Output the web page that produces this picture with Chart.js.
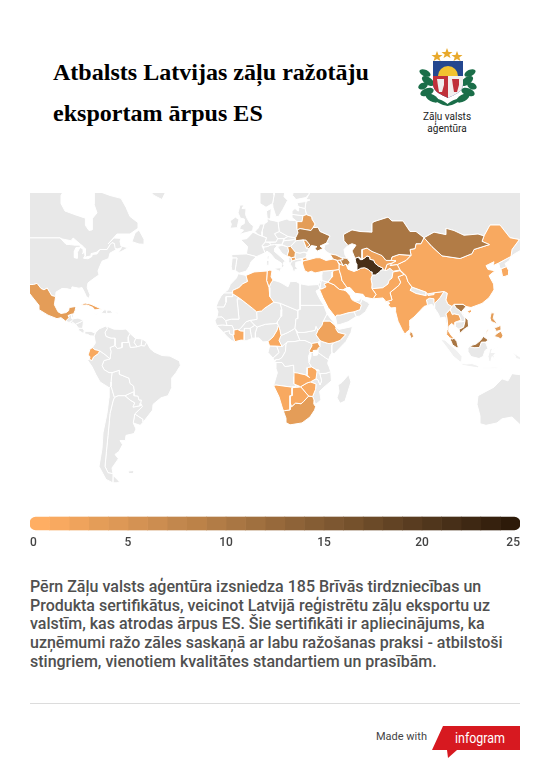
<!DOCTYPE html>
<html>
<head>
<meta charset="utf-8">
<script src="https://cdn.jsdelivr.net/npm/chart.js@4/dist/chart.umd.js"></script>
<style>
  html, body { margin: 0; padding: 0; background: #fff; }
  #page { position: relative; width: 550px; height: 781px; overflow: hidden; font-family: Roboto, sans-serif; }
  #title { position: absolute; left: 53px; top: 52px; font: bold 24.05px/41px "Liberation Serif", serif; color: #000; white-space: nowrap; }
  #mapBox { position: absolute; left: 30px; top: 193px; width: 490px; height: 300px; }
  #scaleBox { position: absolute; left: 30px; top: 515px; width: 490px; height: 34px; }
  #body { position: absolute; left: 30px; top: 578px; font: 500 16px/18.7px Roboto, sans-serif; color: #505050; white-space: nowrap; }
  #rule { position: absolute; left: 30px; top: 703px; width: 490px; height: 1px; background: #dcdcdc; }
  #made { position: absolute; left: 376px; top: 730px; font: 11px/14px Roboto, sans-serif; color: #444; }
  #agency { position: absolute; left: 407px; top: 111px; width: 80px; text-align: center; font: 10px/11.5px Roboto, sans-serif; color: #222; }
  svg { position: absolute; }
</style>
</head>
<body>
<div id="page">
  <div id="title">Atbalsts Latvijas zāļu ražotāju<br>eksportam ārpus ES</div>

  <svg style="left:418px;top:48px" width="60" height="62" viewBox="0 0 60 62">
    <g fill="#e8a92c">
      <polygon points="19,3 20.5,7 24.5,7 21.3,9.5 22.5,13 19,11 15.5,13 16.7,9.5 13.5,7 17.5,7"/>
      <polygon points="29,0 30.5,4 34.5,4 31.3,6.5 32.5,10 29,8 25.5,10 26.7,6.5 23.5,4 27.5,4"/>
      <polygon points="39,3 40.5,7 44.5,7 41.3,9.5 42.5,13 39,11 35.5,13 36.7,9.5 33.5,7 37.5,7"/>
    </g>
    <g fill="#1b6e49">
      <ellipse cx="7" cy="25" rx="6" ry="3.2" transform="rotate(25 7 25)"/>
      <ellipse cx="10" cy="33" rx="7" ry="3.8" transform="rotate(35 10 33)"/>
      <ellipse cx="5" cy="38" rx="5" ry="3.2" transform="rotate(-25 5 38)"/>
      <ellipse cx="9" cy="44" rx="7" ry="3.8" transform="rotate(-20 9 44)"/>
      <ellipse cx="14" cy="50" rx="7" ry="3.5" transform="rotate(30 14 50)"/>
      <ellipse cx="52" cy="25" rx="6" ry="3.2" transform="rotate(-25 52 25)"/>
      <ellipse cx="49" cy="33" rx="7" ry="3.8" transform="rotate(-35 49 33)"/>
      <ellipse cx="54" cy="38" rx="5" ry="3.2" transform="rotate(25 54 38)"/>
      <ellipse cx="50" cy="44" rx="7" ry="3.8" transform="rotate(20 50 44)"/>
      <ellipse cx="45" cy="50" rx="7" ry="3.5" transform="rotate(-30 45 50)"/>
      <ellipse cx="23" cy="54" rx="8" ry="1.8" transform="rotate(25 23 54)"/>
      <ellipse cx="36" cy="54" rx="8" ry="1.8" transform="rotate(-25 36 54)"/>
    </g>
    <path d="M15 13 H45 V36 C45 44 36 47 30 50 C24 47 15 44 15 36 Z" fill="#24478f"/>
    <path d="M20 28 A10 10 0 0 1 40 28 Z" fill="#f2c230"/>
    <path d="M15 28 H30 V50 C24 47 15 44 15 36 Z" fill="#c0303a"/>
    <path d="M30 28 H45 V36 C45 44 36 47 30 50 Z" fill="#f2eeee"/>
    <path d="M19 31 h7 v6 l-2 7 h-3 l-1 -6 z" fill="#eee"/>
    <path d="M34 31 h7 v6 l-2 7 h-3 l-1 -6 z" fill="#c0303a"/>
  </svg>
  <div id="agency">Zāļu valsts<br>aģentūra</div>

  <div id="mapBox"><canvas id="map"></canvas></div>
  <div id="scaleBox"><canvas id="scale"></canvas></div>

  <div id="body">Pērn Zāļu valsts aģentūra izsniedza 185 Brīvās tirdzniecības un<br>Produkta sertifikātus, veicinot Latvijā reģistrētu zāļu eksportu uz<br>valstīm, kas atrodas ārpus ES. Šie sertifikāti ir apliecinājums, ka<br>uzņēmumi ražo zāles saskaņā ar labu ražošanas praksi - atbilstoši<br>stingriem, vienotiem kvalitātes standartiem un prasībām.</div>

  <div id="rule"></div>
  <div id="made">Made with</div>
  <svg style="left:432px;top:725px" width="88" height="34" viewBox="0 0 88 34">
    <polygon points="11,1 88,1 88,25 25,25 16,33 15,25 0,25" fill="#d71920"/>
    <text x="23" y="18" fill="#fff" font-family="Liberation Sans Narrow, Roboto, sans-serif" font-size="15" textLength="50" lengthAdjust="spacingAndGlyphs">infogram</text>
  </svg>
</div>

<script>
// colour scale, one colour per unit
const scaleColors = ['#FFAE63','#F8A960','#EFA35C','#E49D58','#DD9856','#D49253','#CC8D50','#C2874D','#BC8248','#B27C46','#A97643','#A0703F','#97693B','#8E6338','#855D34','#7D5731','#75512C','#6B4A28','#624324','#593C20','#50361C','#472F18','#3E2813','#36210E','#2D1A09'];
const scaleTicks = [0, 5, 10, 15, 20, 25];

// countries with certificates, [lon, lat]
const mexico = [[-117.1,32.5],[-114.8,32.5],[-111,31.3],[-108.2,31.3],[-106.5,31.8],[-104.5,29.6],[-103,29],[-101.4,29.8],[-99.2,26.5],[-97.2,26],[-97.8,22.3],[-96,19],[-94.5,18.2],[-92,18.6],[-90.7,19.5],[-90.4,21],[-87,21.5],[-87.5,19.5],[-88.2,18],[-89.1,17.9],[-91,17.2],[-90.5,16.2],[-92.2,14.5],[-94.5,16.2],[-96.5,15.7],[-101,17.4],[-105.5,20],[-105.5,22],[-109,26],[-112.5,30],[-114.7,31.5],[-112.5,27],[-109.5,23],[-112,25],[-115,28.5]];
const cuba = [[-84.9,21.9],[-82.5,23.1],[-79.5,22.5],[-76,21],[-74.2,20.2],[-77.7,19.9],[-78.5,21],[-81.5,22.2],[-84,22]];
const ecuador = [[-80.9,-2.2],[-80,0.8],[-78.8,1.4],[-77.5,0.4],[-75.2,-0.1],[-75.8,-1.5],[-78.3,-3.3],[-79,-5],[-80.3,-4.4],[-80,-3.2]];
const algeria = [[-2,35.1],[2,36.5],[8.6,36.9],[8.3,33],[9.5,30],[9.9,26],[11.9,23.5],[7.5,20.8],[5.8,19.4],[3.3,19],[1.2,20.7],[-4.8,25],[-8.7,27.3],[-8.7,28.7],[-5.5,30],[-3.6,31.6],[-1.2,32.6]];
const tunisia = [[8.6,36.9],[10,37.3],[11,36.9],[10.5,34.5],[11.5,33.2],[10.3,31.7],[9.5,30],[8.3,33]];
const ivoryCoast = [[-8,10.2],[-6.2,10.5],[-4.7,9.7],[-2.8,9.6],[-2.9,5.1],[-4.5,5.2],[-7.6,4.4],[-8.5,7.7],[-7.9,8]];
const cameroon = [[9,4.5],[11.5,6.7],[13.5,10],[14.2,12.5],[15,10],[15.5,7.5],[14.5,5],[16,2],[13.3,2.2],[9.8,2.3]];
const ethiopia = [[36,12.5],[36.5,14.3],[37,14.5],[40,14.5],[42.4,12.5],[43,11.5],[42.8,11],[44,9],[47.9,8],[45,5],[41.9,3.9],[39.5,3.4],[36,4.5],[35,5],[33,7.8],[34,10]];
const uganda = [[30.8,3.5],[33.9,4],[35,2],[34,1],[33.9,0.2],[31.7,0],[31.7,-1],[30,-1],[29.7,0],[31,2.3]];
const zambia = [[22,-11],[24,-11.2],[25,-11.5],[27.5,-12],[29.8,-13.4],[28.5,-12],[28.7,-8.5],[30.8,-8.2],[32.9,-9.4],[33.5,-10.5],[33,-14],[30.2,-15.5],[28.5,-16],[25.3,-17.8],[22,-16.5]];
const namibia = [[11.8,-17.2],[13,-17],[20.8,-18],[23.4,-17.6],[25.3,-17.8],[21,-18.3],[21,-22],[20,-22],[20,-28.4],[17.3,-28.8],[16.5,-28.5],[14.5,-22.5]];
const botswana = [[20,-22],[21,-22],[21,-18.3],[25.3,-17.8],[29.3,-22.2],[26.8,-24.7],[25.5,-25.7],[22.8,-25.4],[20.8,-27],[20,-25]];
const zimbabwe = [[25.3,-17.8],[28.5,-16],[30.2,-15.5],[33,-16.5],[32.8,-19],[31.3,-22.4],[29.3,-22.2]];
const southAfrica = [[16.5,-28.5],[17.3,-28.8],[20,-28.4],[20,-25],[20.8,-27],[22.8,-25.4],[25.5,-25.7],[26.8,-24.7],[29.3,-22.2],[31.3,-22.4],[32,-24],[31.9,-25.8],[32.8,-27],[32.3,-28.5],[30,-31.5],[26,-34],[20,-34.8],[18.3,-34],[18,-32]];
const ukraine = [[24,50.6],[23.6,51.5],[25,51.9],[30.5,51.3],[31.5,52.2],[34,52.3],[35,51],[40,49.6],[38.2,47.2],[35,46.2],[36.5,45.3],[33.5,44.4],[32.5,45.4],[33.5,46],[30.7,46.4],[29.6,45.4],[28.2,45.5],[30,46.5],[28,48.2],[26.5,48.3],[22.9,48],[22.8,49]];
const belarus = [[23.5,54],[26,54],[26.5,55.7],[28.2,56],[30.8,55.5],[31,54.7],[32.5,53.3],[31.5,52.2],[30.5,51.3],[25,51.9],[23.6,51.5]];
const moldova = [[26.6,48.3],[28,48.2],[30,46.5],[28.2,45.5]];
const serbia = [[18.8,45.9],[20.3,46.1],[22.7,44],[22.4,42.3],[20.7,42],[19.4,42.5],[18.5,42.5],[19.3,44.5]];
const macedonia = [[20.5,42],[22.4,42.3],[22.9,41.3],[21,40.8]];
const turkey = [[26.2,40],[26.7,38.5],[27.4,37],[29,36.3],[30.7,36.8],[32.5,36.1],[36,36.7],[36.2,36.8],[42,37.2],[44.5,37.5],[44.5,39.4],[43.5,41],[41.5,41.5],[38,41],[35,42],[33,42],[29,41.2],[27.5,41],[26.2,40.6]];
const turkeyThrace = [[26.2,40.7],[28,41.1],[29,41.2],[28,42],[26.4,41.8]];
const georgia = [[40,43.4],[43,43],[46,41.9],[46.5,41.3],[43.5,41],[41.5,41.5]];
const armenia = [[43.5,41],[45,41.2],[46.5,39],[44.8,39.7]];
const azerbaijan = [[46.5,41.3],[46,41.9],[48.5,41.8],[50,40.3],[49,39],[48,39.6],[46.5,39],[45,41.2]];
const kazakhstan = [[49,46.4],[47,48],[46.7,50],[48,50.5],[51,51.5],[55,51],[61,50.8],[61,53.5],[62,54],[69,55.3],[71,54.2],[76.5,54.2],[80,51],[83,51],[87,49],[85.5,47],[83,47],[82.5,45.3],[80,45],[80.5,42.9],[74.5,43.2],[71,42.3],[70.5,41],[68,41],[66,42.8],[61,44.3],[58.5,45.5],[56,45],[56,41.3],[54.5,42.3],[52.5,41.8],[51,44.5],[53,46.5],[51,47]];
const uzbekistan = [[56,45],[58.5,45.5],[61,44.3],[65,43.7],[66,42.8],[68,41],[70.5,41],[73,40.8],[71,40],[68.5,39.5],[67.5,37.2],[66.6,37.4],[66.5,38],[64.2,38.9],[62.4,40],[61.9,41.1],[60.1,41.4],[60,42.2],[58.5,42.7],[57.8,42.2],[56,41.3]];
const turkmenistan = [[52.5,41.8],[54,42.3],[55,41.3],[56,41.3],[57.8,42.2],[58.5,42.7],[60,42.2],[60.1,41.4],[61.9,41.1],[62.4,40],[64.2,38.9],[66.5,38],[66.6,37.4],[65.6,37.3],[64.5,36.3],[62.7,35.3],[61.2,35.3],[61.1,36.5],[60.3,36.6],[59.2,37.5],[57.3,38.2],[55.4,38],[53.9,37.3],[53.5,39.5],[53,40]];
const tajikistan = [[67.5,37.2],[68.5,39.5],[71,40],[70,39],[73.6,39.4],[75,37.3],[71.5,36.8],[70,38],[68,37]];
const kyrgyzstan = [[71,42.3],[74.5,43.2],[80.5,42.9],[78,41],[73.6,39.4],[70,39],[71,40],[73,40.8],[70.5,41]];
const mongolia = [[87,49],[92,50.8],[98,50],[98,52],[102,51.3],[107,49.8],[114,50.2],[117,49.6],[116,47.8],[119.7,46.7],[112,45],[111,43.5],[105,41.7],[96,42.7],[91,46]];
const china = [[73.6,39.4],[78,41],[80.5,42.9],[80,45],[82.5,45.3],[83,47],[85.5,47],[87,49],[91,46],[96,42.7],[105,41.7],[111,43.5],[112,45],[119.7,46.7],[116,47.8],[117,49.6],[120,53],[125,53],[130,49],[134.7,48.4],[131,45],[130.5,42.5],[128,41.5],[124.3,40],[121.5,39],[122,40.5],[118,39],[119,37.5],[122.5,37],[119.5,35],[121.8,31.5],[122,29],[119.5,25.5],[116,22.9],[110.5,21],[108,21.5],[106.5,22.5],[102,22.5],[101,21.5],[99,22.5],[98,24.5],[98.7,27.5],[97,28.3],[92,27.7],[88.8,27.2],[88,28],[81,30.2],[79,32.5],[78,35],[75,37.3]];
const hainan = [[108.7,19.3],[110.5,20.1],[110.8,19],[109.5,18.2]];
const southKorea = [[125.5,37.7],[128.3,38.6],[129.4,37],[129.3,35.3],[127.5,34.7],[126.3,34.6]];
const iran = [[44.5,39.4],[48,39.6],[49,37.6],[52,36.7],[53.9,37.3],[55.4,38],[57.3,38.2],[59.2,37.5],[60.3,36.6],[61.1,36.5],[61.2,35.3],[60.5,33.7],[61,31.5],[60.9,29.8],[61,29.5],[63,27],[61.5,25],[57.5,25.7],[56.5,27],[52.5,27.5],[50,30],[48.5,30],[47.7,31],[46,33],[45.5,35],[44.5,37.5]];
const iraq = [[42,37.2],[44.5,37.5],[45.5,35],[46,33],[47.7,31],[48.5,30],[46.5,29],[44.7,29.2],[42,31.2],[39,32.3],[41,34.5],[41.3,36.5]];
const saudiArabia = [[34.7,29.3],[36,29.4],[38,30.3],[37,31.5],[39,32.3],[42,31.2],[44.7,29.2],[46.5,29],[48,28.5],[50,26.5],[50.8,24.8],[51.6,24.2],[55.2,22.7],[55.6,22],[55,20],[52,19],[49,18.5],[45,17.4],[43.4,17.4],[42.7,16.5],[39,21],[36.5,25.5]];
const pakistan = [[61.5,25],[66.5,25.4],[68,23.7],[71,24.5],[70,27.8],[74.5,31],[75.3,32.3],[74,34.5],[77,35.5],[75,37],[71.5,36.5],[71,34],[69.5,33],[69,31.5],[66.4,29.9],[61,29.5],[63,27]];
const india = [[68.2,23.7],[71,24.5],[70,27.8],[74.5,31],[75.3,32.3],[74,34.5],[77,35.5],[78,35],[79,32.5],[81,30.2],[80,28.8],[83,27.4],[88,26.4],[88.1,27.9],[88.8,27.2],[89,26.5],[92,26.9],[92,27.7],[97,28.3],[95,25.5],[93.5,24],[92.3,23],[92,25],[89.8,25.3],[88.2,24.5],[88.8,22],[87,21.5],[85,19.5],[82,16.5],[80,15],[80,12],[79.8,10.3],[78,8.9],[77.5,8],[76,10.5],[74,14.5],[72.8,19],[72.8,21],[70.5,20.8],[69,22.3],[70,23]];
const sriLanka = [[79.8,8],[80.2,9.7],[81.3,8.5],[81.8,7],[80.6,6]];
const thailand = [[100,20],[101.2,17.6],[102,18],[104.5,17.5],[105.5,15],[102.5,14],[102.5,12],[100.8,13.4],[99.5,12],[99.3,9.5],[101,7],[102,6.2],[101,5.7],[99.7,6.5],[98.3,8],[98.5,10],[99,11],[98.5,16],[98,18]];
const vietnam = [[102,22.5],[106.5,22.5],[108,21.5],[105.7,19],[107,17],[109,15],[109.3,12],[107,10.5],[105,8.6],[104.5,10.5],[106.8,11.6],[107.5,14.5],[107.5,16],[105,19.5],[103,20.8]];
const malaysiaWest = [[100.2,6.5],[101,5.7],[102,6.2],[103.4,4.5],[104.2,1.4],[103.4,1.4],[101.3,2.8],[100.4,5]];
const malaysiaEast = [[109.7,2],[111.3,2.7],[113,3.2],[115.2,5],[116.7,7],[119.2,5.2],[117.7,4.2],[115.7,4.2],[114.7,1.5],[112,1.4]];
const luzon = [[120.6,18.5],[122.2,18.4],[121.6,15.8],[124,13],[121.8,13.9],[120.6,14.3],[120,16]];
const mindanao = [[122,7],[123.5,8.5],[125.5,9.7],[126.5,7.3],[125.5,5.7],[124,6.5]];
const visayas = [[122,11.5],[123.2,11.5],[125.4,12.5],[125.5,10.2],[123.2,9.5]];
const palawan = [[117.3,8.4],[119.5,11.2],[119,10],[118,8.5]];

const certCountries = [mexico, cuba, ecuador, algeria, tunisia, ivoryCoast, cameroon, ethiopia, uganda, zambia, namibia, botswana, zimbabwe, southAfrica, ukraine, belarus, moldova, serbia, macedonia, turkey, turkeyThrace, georgia, armenia, azerbaijan, kazakhstan, uzbekistan, turkmenistan, tajikistan, kyrgyzstan, mongolia, china, hainan, southKorea, iran, iraq, saudiArabia, pakistan, india, sriLanka, thailand, vietnam, malaysiaWest, malaysiaEast, luzon, mindanao, visayas, palawan];
const certValues = [3, 2, 1, 1, 1, 1, 1, 2, 2, 1, 1, 1, 1, 3, 10, 3, 3, 3, 2, 1, 1, 5, 4, 8, 10, 2, 21, 2, 1, 9, 1, 1, 1, 1, 1, 1, 1, 1, 4, 2, 10, 10, 10, 3, 3, 3, 3];

// the rest of the land, grey
const greenland = [[-44,60],[-42,62],[-40,65],[-52,65],[-50,62],[-48,61]];
const canada = [[-130,70],[-123,49],[-95,49],[-94.6,48.7],[-89.5,48],[-88.4,48.9],[-84.9,46.9],[-83.5,46.1],[-82.5,45.3],[-82.1,43.6],[-82.5,42.6],[-83.1,42.1],[-79,42.8],[-79.5,43.5],[-76.8,44],[-75,45],[-71.5,45],[-70,46.7],[-69,47.4],[-67.8,47.1],[-67.4,45.3],[-66,45.2],[-64.2,45.7],[-66,43.7],[-63.5,44.6],[-60,46],[-61.5,45.7],[-64.5,46.2],[-65,47.8],[-64.5,48.8],[-68,48.9],[-71,46.9],[-69,48.4],[-66.5,50.2],[-60,50.2],[-56,52],[-56,53.7],[-60,55.5],[-62,58],[-64.5,60.3],[-70,61],[-78,62.4],[-78,58.8],[-76.5,56.5],[-79,54.8],[-79,51.5],[-80.5,51.3],[-82.3,52.9],[-82.3,55],[-87.5,56],[-92.5,57],[-94.5,59],[-94.5,61],[-92,63],[-90,64],[-90,70]];
const newfoundland = [[-59,47.7],[-55.5,46.9],[-53,46.8],[-53,48.5],[-55.5,51.5],[-57.5,50.5]];
const usa = [[-125,49],[-95,49],[-94.6,48.7],[-92,46.8],[-90,46.7],[-87.5,46.5],[-84.8,46.5],[-84.8,45.8],[-87,45.7],[-87.8,44.5],[-87.8,42],[-86.5,41.8],[-86.3,44],[-85,45.7],[-83.5,45.2],[-83.3,44],[-83.9,43.6],[-82.6,43.9],[-82.5,42.8],[-83.2,41.8],[-81,41.6],[-79,42.5],[-79,43.2],[-76.5,43.4],[-75,45],[-71.5,45],[-70,46.7],[-69,47.4],[-67.8,47.1],[-67,44.9],[-70,43.7],[-70.7,41.7],[-74,40.7],[-75.5,38],[-76,36.9],[-75.5,35.3],[-78,33.9],[-81,32],[-81.4,30],[-80,26.8],[-80.4,25.2],[-81.8,26],[-82.8,28],[-84,30],[-85.5,29.7],[-89,30.3],[-89.3,29],[-91.5,29.5],[-94,29.6],[-97,28],[-97.2,26],[-99.2,26.5],[-101.4,29.8],[-103,29],[-104.5,29.6],[-106.5,31.8],[-108.2,31.3],[-111,31.3],[-114.8,32.5],[-120,32]];
const guatemala = [[-92.2,14.5],[-90.5,16.2],[-91,17.2],[-89.2,17.8],[-89.2,15.9],[-88.2,15.7],[-89.4,14.4],[-90.5,13.9]];
const belize = [[-89.2,17.8],[-88.2,18.4],[-88.3,16.5],[-89.2,15.9]];
const honduras = [[-89.2,15.9],[-88.2,15.7],[-86,16],[-83.2,15],[-85,14],[-87.3,13],[-87.8,13.4],[-89.4,14.4]];
const elSalvador = [[-90,13.7],[-89.4,14.4],[-87.8,13.4],[-88.5,13.2]];
const nicaragua = [[-87.3,13],[-85,14],[-83.2,15],[-83.7,11],[-85.7,11.1]];
const costaRica = [[-85.7,11.1],[-83.7,11],[-82.6,9.5],[-83,8.3],[-85.7,10]];
const panama = [[-82.6,9.5],[-79.5,9.5],[-77.4,8.7],[-77.9,7.2],[-80,7.3],[-81,8],[-83,8.3]];
const haiti = [[-74.4,18.4],[-71.7,18],[-71.7,19.8],[-73,19.9]];
const dominicana = [[-71.7,18],[-68.5,18.5],[-69.9,19.7],[-71.7,19.8]];
const jamaica = [[-78.3,18.3],[-76.3,18.1],[-77,17.7]];
const puertoRico = [[-67.2,18.5],[-65.6,18.4],[-66.5,17.9]];
const colombia = [[-77.4,8.7],[-75.5,10.7],[-72,12.2],[-71.3,11],[-72.5,9],[-72,7],[-69.5,6.1],[-67.5,6.1],[-67.5,2.5],[-70,1.5],[-69.5,-0.5],[-70,-4.2],[-72,-2.4],[-75.2,-0.1],[-77.5,0.4],[-78.8,1.4],[-77.3,3.8],[-77.9,7.2]];
const venezuela = [[-71.3,11],[-71.5,12],[-68,10.6],[-64,10.5],[-62,10.7],[-60,8.5],[-61,6.7],[-60.7,5.2],[-61,4],[-64,4],[-64,1.5],[-66.3,1],[-67.5,2.5],[-67.5,6.1],[-69.5,6.1],[-72,7],[-72.5,9]];
const guyana = [[-60,8.5],[-57.2,6],[-58,4],[-56.5,1.9],[-59.8,1.5],[-60.7,5.2],[-61,6.7]];
const suriname = [[-57.2,6],[-54,5.8],[-54.5,2.5],[-56.5,1.9],[-58,4]];
const frenchGuiana = [[-54,5.8],[-51.7,4.3],[-52.7,2.3],[-54.5,2.5]];
const peru = [[-81.3,-4.7],[-80.3,-4.4],[-79,-5],[-78.3,-3.3],[-75.8,-1.5],[-75.2,-0.1],[-72,-2.4],[-70,-4.2],[-73,-5],[-74,-7.5],[-73,-9.5],[-70.5,-11],[-69,-11],[-69.5,-15.5],[-69.5,-17.5],[-70.4,-18.3],[-75,-15.5],[-77,-12],[-79,-8]];
const brazil = [[-51.7,4.3],[-50,1],[-48,-0.7],[-44,-2.5],[-40,-2.8],[-35.3,-5.2],[-34.8,-7.5],[-37,-11],[-39,-13.5],[-39,-18],[-41,-22],[-44.5,-23],[-48.5,-26],[-48.7,-28.5],[-52,-32.2],[-53.4,-33.7],[-53.5,-32.5],[-57.6,-30.2],[-53.8,-27],[-54.6,-25.5],[-54.3,-24],[-55.5,-24],[-56,-22.2],[-58,-22],[-57.8,-20],[-58.2,-17.5],[-60,-16.2],[-60.5,-13.7],[-65.3,-11.8],[-65.3,-9.8],[-69,-11],[-70.5,-11],[-73,-9.5],[-74,-7.5],[-73,-5],[-70,-4.2],[-69.5,-0.5],[-70,1.5],[-67.5,2.5],[-66.3,1],[-64,1.5],[-64,4],[-61,4],[-60.7,5.2],[-59.8,1.5],[-56.5,1.9],[-54.5,2.5],[-52.7,2.3]];
const bolivia = [[-69,-11],[-65.3,-9.8],[-65.3,-11.8],[-60.5,-13.7],[-60,-16.2],[-58.2,-17.5],[-57.8,-20],[-62.5,-22],[-66,-22],[-67.8,-22.8],[-69,-19],[-69.5,-17.5],[-69.5,-15.5]];
const paraguay = [[-62.5,-22],[-57.8,-20],[-58,-22],[-56,-22.2],[-55.5,-24],[-54.3,-24],[-54.6,-25.5],[-55,-26.6],[-58.5,-27.2],[-57.6,-25.3],[-60,-24]];
const chile = [[-70.4,-18.3],[-69.5,-17.5],[-69,-19],[-67.8,-22.8],[-68.5,-24.5],[-70,-30],[-70.3,-33],[-71,-39],[-71.8,-45],[-72.5,-50],[-71,-52],[-68.5,-52.3],[-68.6,-55],[-72,-54],[-75.5,-50],[-74,-44],[-73.5,-38],[-71.5,-30],[-70.5,-23]];
const argentina = [[-66,-22],[-62.5,-22],[-60,-24],[-57.6,-25.3],[-58.5,-27.2],[-55,-26.6],[-54.6,-25.5],[-53.8,-27],[-57.6,-30.2],[-58.4,-34],[-57,-36.5],[-58,-38.3],[-62,-39],[-62.3,-41],[-65,-41],[-63.7,-42.5],[-65.5,-45],[-67.5,-46],[-65.8,-47.5],[-69,-50.5],[-68.5,-52.3],[-71,-52],[-72.5,-50],[-71.8,-45],[-71,-39],[-70.3,-33],[-70,-30],[-68.5,-24.5],[-67.8,-22.8]];
const tierraDelFuego = [[-68.6,-52.7],[-68.6,-55],[-66.5,-55],[-65.2,-54.7]];
const uruguay = [[-57.6,-30.2],[-53.5,-32.5],[-53.4,-33.7],[-54.9,-35],[-58.4,-34]];
const falklands = [[-61,-51.5],[-58,-51.3],[-58.5,-52.3],[-60.5,-52.2]];
const portugal = [[-9.4,38.7],[-8.9,41.9],[-6.5,41.9],[-7,39.5],[-7.4,37.2],[-9,37]];
const spain = [[-8.9,41.9],[-9.2,43.2],[-1.8,43.4],[3.2,42.4],[0.5,40.5],[-0.3,38.8],[-2,36.8],[-5.5,36],[-7.4,37.2],[-7,39.5],[-6.5,41.9]];
const france = [[-1.8,43.4],[-1.2,46],[-4.7,48.4],[-1.6,48.7],[1.5,50.8],[4,50],[6,49.5],[8.2,49],[7.6,47.6],[6,46.3],[6.8,45],[7.5,43.8],[3.2,42.4]];
const benelux = [[2.5,51],[4,52],[5,53.3],[7,53.3],[6,51],[6,49.5],[4,50]];
const germany = [[7,53.3],[8.8,54],[8.6,55],[10,54.5],[14,54],[14.6,51],[12.2,50.3],[13.8,48.7],[13,47.6],[7.6,47.6],[8.2,49],[6,49.5],[6,51]];
const denmark = [[8.6,55],[8.2,57],[10.6,57.7],[10.3,55],[10,54.5]];
const switzerland = [[6,46.3],[7.6,47.6],[9.6,47.4],[10.4,46.6],[8.5,46],[7,45.9]];
const austria = [[9.6,47.4],[13,47.6],[13.8,48.7],[17,48.7],[16,46.8],[12.2,46.7],[10.4,46.6]];
const italy = [[7,45.9],[8.5,46],[10.4,46.6],[12.2,46.7],[13.7,46.4],[12.3,45.3],[12.4,44.2],[16,41.9],[18.4,40.2],[17,40.5],[16.5,39.5],[17,39],[16,38],[15.7,40],[12.5,41.5],[10.3,43.5],[8.5,44.4],[7.5,43.8],[6.8,45]];
const sicily = [[12.5,38],[15.6,38.2],[15.1,36.7],[12.5,37.6]];
const sardinia = [[8.2,40.9],[9.7,41],[9.6,39.2],[8.5,39]];
const corsica = [[8.6,42.4],[9.5,43],[9.4,41.5],[8.8,41.5]];
const britain = [[-5.5,50],[-3,50.5],[1.3,51.2],[1.7,52.7],[0,53.5],[-1.5,55],[-2.2,56],[-2,57.6],[-4,57.7],[-3,58.6],[-5,58.6],[-6,56.5],[-4.8,55],[-3,54.8],[-3,53.4],[-4.7,52.8],[-5.2,51.8],[-3.2,51.4]];
const ireland = [[-10,52],[-6.3,52.2],[-6,53.5],[-5.5,54.6],[-7.3,55.3],[-10,54.2],[-9.3,53.2]];
const norway = [[5,59],[5,62],[12,66],[18,70],[28,71],[28,70],[24,68.5],[20,69],[15,66],[12,63],[12,61],[11.3,59],[8,58]];
const sweden = [[11.3,59],[12,61],[12,63],[15,66],[20,69],[24,66],[22,65.5],[17.5,62],[17,60.7],[18.8,59.8],[16.5,57.5],[14.3,55.5],[13,55.4],[11.5,58]];
const finland = [[24,66],[20,69],[24,68.5],[28,70],[29,69],[30,65],[29.5,61.3],[28,60.5],[23,60],[21.3,61],[22,63],[25.2,65]];
const estonia = [[23.5,59.2],[28,59.5],[27.5,57.7],[25,58],[24,58.3]];
const latvia = [[21,57],[22.5,57.7],[24,57],[24.3,58],[25,58],[27.5,57.7],[28.2,56],[26.5,55.7],[21,56.1]];
const lithuania = [[21,56.1],[26.5,55.7],[26,54],[23.5,54],[21,55.2]];
const poland = [[14,54],[18.5,54.8],[19.5,54.4],[23,54.3],[23.6,51.5],[24,50.6],[22.8,49],[19,49.4],[14.6,51]];
const czechia = [[12.2,50.3],[14.6,51],[19,49.5],[17,48.7],[13.8,48.7]];
const slovakia = [[17,48.7],[19,49.4],[22.8,49],[22.1,48.4],[17,48]];
const hungary = [[16,46.8],[17,48],[22.1,48.4],[22.9,48],[20.3,46.1],[18.8,45.9],[16.6,46.5]];
const romania = [[22.9,48],[26.6,48.3],[28.2,45.5],[29.6,45.2],[28.6,43.8],[27,44.1],[25,43.7],[22.7,44],[20.3,46.1]];
const bulgaria = [[22.7,44],[25,43.7],[27,44.1],[28.6,43.5],[27.8,42],[26.4,41.8],[24,41.5],[22.9,41.3],[22.4,42.3]];
const greece = [[20,39.6],[21,40.8],[22.9,41.3],[24,41.5],[26.2,41.5],[26,40.8],[23,40.3],[23,38.5],[24,37.8],[22.8,37.5],[22.6,36.5],[21.5,37],[21,38.5]];
const albania = [[19.4,42.2],[20.5,42],[21,40.8],[20,39.6],[19.4,40.5]];
const croatia = [[13.7,46],[16,46.5],[18.8,45.9],[19.3,44.5],[18.5,42.5],[16,43.6],[14.5,45.2]];
const russia = [[28,70],[30,65],[29.5,61.3],[28,60],[30,59.9],[28,59.5],[27.5,57.7],[28.2,56],[30.8,55.5],[31,54.7],[32.5,53.3],[31.5,52.2],[34,52.3],[35,51],[40,49.6],[38.2,47.2],[39.3,47],[37.5,46.7],[37,45.2],[38,44.3],[40,43.4],[43,43],[46,41.9],[48.5,41.8],[47.5,43],[47,45],[49,46.4],[47,48],[46.7,50],[48,50.5],[51,51.5],[55,51],[61,50.8],[61,53.5],[62,54],[69,55.3],[71,54.2],[76.5,54.2],[80,51],[83,51],[87,49],[92,50.8],[98,50],[98,52],[102,51.3],[107,49.8],[114,50.2],[117,49.6],[120,53],[125,53],[130,49],[134.7,48.4],[131,45],[130.5,42.5],[132,43.3],[136,45],[140,49],[141,53],[137,54],[140,75],[28,75]];
const northKorea = [[130.5,42.5],[128,41.5],[124.3,40],[125,38],[125.5,37.7],[128.3,38.6],[127.5,39.8],[129.7,41]];
const afghanistan = [[60.5,33.7],[61,31.5],[60.9,29.8],[61,29.5],[66.4,29.9],[69,31.5],[69.5,33],[71,34],[71.5,36.5],[75,37],[71.5,36.8],[70,38],[68,37],[67.5,37.2],[66.6,37.4],[65.6,37.3],[64.5,36.3],[62.7,35.3],[61.2,35.3]];
const syria = [[36.2,36.8],[42,37.2],[41.3,36.5],[41,34.5],[39,32.3],[36,33],[35.9,35]];
const jordan = [[36,33],[39,32.3],[37,31.5],[38,30.3],[36,29.4],[35,29.5],[35.5,32.4]];
const israel = [[35,29.5],[35.5,32.4],[35.7,33.5],[35,32.8],[34.3,31.3]];
const yemen = [[42.7,16.5],[43.4,17.4],[45,17.4],[49,18.5],[52,19],[53.1,16.7],[49,14.2],[45,12.9],[43.5,12.7]];
const oman = [[52,19],[55,20],[55.6,22],[55.2,22.7],[56,24.8],[58.7,23.5],[59.8,22.5],[57.7,19],[55,17],[53.1,16.7]];
const uae = [[51.6,24.2],[54.5,24.2],[56.3,26],[56,24.8],[55.2,22.7]];
const nepal = [[80,28.8],[81,30.2],[88,28],[88.1,26.4],[83,27.4]];
const bangladesh = [[88.2,24.5],[89.8,25.3],[92,25],[92.3,21],[91,22.5],[88.8,22]];
const bhutan = [[88.8,27.2],[92,27.7],[92,26.9],[89,26.5]];
const myanmar = [[92.3,20.7],[92.3,23],[93.5,24],[95,25.5],[97,28.3],[98.7,27.5],[98,24.5],[99,22.5],[101,21.5],[100,20],[98,18],[98.5,16],[99,11],[98,14],[97.5,16.5],[95,16],[94.2,18]];
const laos = [[101,21.5],[102,22.5],[103,20.8],[105,19.5],[107.5,16],[107.5,14.5],[105.5,14.2],[105.5,15],[104.5,17.5],[102,18],[101.2,17.6],[100,20]];
const cambodia = [[102.5,14],[105.5,14.2],[107.5,14.5],[106.8,11.6],[104.5,10.5],[102.5,12]];
const borneo = [[109,1],[109.7,2],[112,1.4],[114.7,1.5],[115.7,4.2],[117.7,4.2],[119,1],[117.5,0],[116.5,-3],[114.5,-4],[110.5,-3],[109,-0.5]];
const australia = [[114,-22],[117,-20.5],[122,-18],[123.5,-16.5],[126,-14],[129,-15],[131,-11.5],[135,-12],[136,-12],[135.5,-15],[140,-17.5],[142,-11],[146,-19],[153,-26],[153,-31],[150,-37],[146,-39],[141,-38],[138,-35.5],[138,-33],[135,-34.7],[131,-31.5],[126,-32.3],[123.5,-34],[118,-35],[115,-34.3],[115,-31],[113.5,-26]];
const morocco = [[-5.9,35.8],[-2,35.1],[-1.2,32.6],[-3.6,31.6],[-5.5,30],[-8.7,28.7],[-8.7,27.7],[-13,27.7],[-11,29],[-9.8,31.4],[-6.8,34]];
const westernSahara = [[-13,27.7],[-8.7,27.7],[-8.7,26],[-12,26],[-12,23.4],[-13,21.3],[-17,21.3],[-16,23.7],[-14.5,26.2]];
const mauritania = [[-17,21.3],[-13,21.3],[-12,23.4],[-12,26],[-8.7,26],[-8.7,27.3],[-4.8,25],[-6.5,25],[-5.5,15.5],[-9.3,15.5],[-12.2,14.8],[-14,16.6],[-16.5,16.5],[-16,19]];
const libya = [[11.5,33.2],[15,32.3],[19,30.3],[20,32.5],[23,32.6],[25,31.6],[25,20],[24,20],[24,19.5],[15,23],[11.9,23.5],[9.9,26],[9.5,30],[10.3,31.7]];
const egypt = [[25,31.6],[29,31],[32.5,31.2],[34.3,31.3],[35,29.5],[33,28.5],[34,26.5],[35.5,24],[37,22],[25,22]];
const sudan = [[25,22],[37,22],[37.3,21],[38.5,18],[36.5,14.3],[36,12.5],[34,10],[33,12],[32.5,10],[27,9],[24,9],[22.5,11],[23,15.7],[24,15.7],[24,20],[25,20]];
const southSudan = [[24,9],[27,9],[32.5,10],[33,12],[34,10],[33,7.8],[35,5],[33.9,4],[30.8,3.5],[27.5,5],[25,5],[23.5,8.7]];
const eritrea = [[36.5,14.3],[38.5,18],[43,12.6],[40,14.5],[37,14.5]];
const somalia = [[43,11.5],[44.5,10.5],[51.2,11.9],[50.5,9],[48,4.5],[42,-1.7],[41,-1],[41,2.8],[41.9,3.9],[45,5],[47.9,8],[44,9],[42.8,11]];
const kenya = [[35,5],[36,4.5],[39.5,3.4],[41.9,3.9],[41,2.8],[41,-1],[40,-2.7],[39.3,-4.6],[37.7,-3.6],[34,-1],[34,0.2],[34,1],[35,2]];
const tanzania = [[30.5,-1],[31.8,-1],[31.8,-2.5],[33.7,-2.3],[34,-1],[37.7,-3.6],[39.3,-4.6],[38.8,-6.5],[39.5,-8],[40.4,-10.5],[38,-11.3],[34.9,-11.5],[34.5,-9.7],[32.9,-9.4],[30.8,-8.2],[29.5,-6],[30.5,-3]];
const drCongo = [[12.2,-6],[13,-4.6],[14.5,-4.5],[16,-3.5],[17.7,-0.5],[18,3],[18.6,4.3],[22.5,4.5],[25,5],[27.5,5],[30.8,3.5],[31,2.3],[29.7,0],[30,-1],[29.2,-3],[29.5,-6],[30.8,-8.2],[28.7,-8.5],[28.5,-12],[29.8,-13.4],[27.5,-12],[25,-11.5],[22,-11],[21.8,-7.3],[17.5,-8],[16,-6]];
const angola = [[13,-5.9],[16,-6],[17.5,-8],[21.8,-7.3],[22,-11],[24,-11.2],[22,-13],[22,-16.5],[23.4,-17.6],[20.8,-18],[13,-17],[11.8,-17.2],[13.7,-11],[13,-9]];
const malawi = [[33.5,-10],[34.5,-9.7],[34.9,-11.5],[35.8,-15],[35,-17],[34,-14.5],[33,-14]];
const mozambique = [[34.9,-11.5],[38,-11.3],[40.4,-10.5],[40.7,-15],[37,-18],[34.8,-20],[35.5,-24],[32.8,-26],[32,-24],[31.3,-22.4],[32.8,-19],[33,-16.5],[30.2,-15.5],[33,-14],[34,-14.5],[35,-17],[35.8,-15]];
const lesotho = [[27,-29.5],[28.5,-28.6],[29.4,-29.6],[28,-30.6]];
const swaziland = [[31,-25.8],[32,-26],[32,-27.2],[31,-27.2]];
const madagascar = [[49.3,-12],[50.5,-15.5],[47.5,-24.5],[45,-25.5],[43.5,-23],[44.5,-20],[44,-17],[46,-15.7]];
const senegal = [[-16.5,16.5],[-14,16.6],[-12.2,14.8],[-11.5,12.4],[-13.7,12.7],[-16.7,12.4],[-17.5,14.7]];
const guinea = [[-16.7,12.4],[-13.7,12.7],[-11.5,12.4],[-9,12.4],[-8,10.2],[-7.9,8],[-8.5,7.7],[-10.2,8.4],[-10.3,9.9],[-13.3,9.1]];
const sierraLiberia = [[-13.3,9],[-10.3,9.9],[-10.2,8.4],[-8.5,7.7],[-7.6,4.4],[-9.2,5],[-11.4,6.9]];
const mali = [[-12.2,14.8],[-9.3,15.5],[-5.5,15.5],[-6.5,25],[-4.8,25],[1.2,20.7],[3.3,19],[3.5,15.4],[0,14.9],[-2,14.2],[-4.7,11],[-5.5,10.4],[-6.2,10.5],[-8,10.2],[-9,12.4],[-11.5,12.4]];
const burkina = [[-5.5,10.4],[-4.7,11],[-2,14.2],[0,14.9],[2.3,12.5],[0,11],[-2.8,11],[-2.8,9.6],[-4.7,9.7]];
const ghana = [[-2.8,11],[0,11],[0.5,8],[1,6],[-2,4.8],[-2.9,5.1],[-2.8,9.6]];
const togoBenin = [[0,11],[2.3,12.5],[3.6,11.7],[2.7,9],[2.7,6.3],[1,6],[0.5,8]];
const niger = [[3.5,15.4],[3.3,19],[5.8,19.4],[7.5,20.8],[11.9,23.5],[15,23],[15.9,20],[15.5,16.9],[13.5,14],[13.6,13.4],[10,13.2],[7.7,13],[3.6,11.7],[2.3,12.5],[0,14.9]];
const chad = [[15,23],[24,19.5],[24,15.7],[23,15.7],[22.5,11],[19,9],[15.5,7.5],[15,10],[14.2,12.5],[13.5,14],[15.5,16.9],[15.9,20]];
const nigeria = [[2.7,6.3],[2.7,9],[3.6,11.7],[7.7,13],[10,13.2],[13.6,13.4],[14.2,12.5],[13.5,10],[11.5,6.7],[9,4.5],[6.5,4.3],[4.5,6.3]];
const centralAfrica = [[15.5,7.5],[19,9],[22.5,11],[23.5,8.7],[25,5],[22.5,4.5],[18.6,4.3],[16,2],[14.5,5]];
const gabon = [[9.8,2.3],[13.3,2.2],[14.5,-1],[11.5,-3.8],[9,-1]];
const congo = [[13.3,2.2],[16,2],[18.6,4.3],[18,3],[17.7,-0.5],[16,-3.5],[14.5,-4.5],[13,-4.6],[12,-5],[11.5,-3.8],[14.5,-1]];

// Indonesian islands come out paler in the source
const sumatra = [[95.3,5.5],[97.5,5.2],[100.5,2.5],[103.5,0],[106,-3],[105.8,-5.8],[104.8,-5.5],[101.5,-2.8],[98.8,1]];
const java = [[105.3,-6.5],[108.5,-6.7],[111,-6.5],[114.5,-7.7],[114.5,-8.7],[110,-8],[106.5,-7.4]];
const sulawesi = [[119.5,-5.5],[119,-3],[120,0.8],[124.8,1.5],[121,0.4],[120.5,-1],[123,-1],[121.8,-2.5],[122.8,-4.5],[121,-3],[120.4,-5.5]];
const lesserSunda = [[116,-8.4],[119,-8.4],[123,-8.3],[125,-8.5],[122,-9],[117,-9]];
const timor = [[124,-10],[127,-8.4],[125.5,-9.6]];
const newGuinea = [[131,-0.8],[135,-3.3],[140,-2.7],[141,-9],[138,-8],[138,-7],[135,-4.5],[133,-4],[132.7,-2.8]];
const paleIslands = [sumatra, java, sulawesi, lesserSunda, timor, newGuinea];

const greyCountries = [greenland, canada, newfoundland, usa, guatemala, belize, honduras, elSalvador, nicaragua, costaRica, panama, haiti, dominicana, jamaica, puertoRico, colombia, venezuela, guyana, suriname, frenchGuiana, peru, brazil, bolivia, paraguay, chile, argentina, tierraDelFuego, uruguay, falklands, portugal, spain, france, benelux, germany, denmark, switzerland, austria, italy, sicily, sardinia, corsica, britain, ireland, norway, sweden, finland, estonia, latvia, lithuania, poland, czechia, slovakia, hungary, romania, bulgaria, greece, albania, croatia, russia, northKorea, afghanistan, syria, jordan, israel, yemen, oman, uae, nepal, bangladesh, bhutan, myanmar, laos, cambodia, borneo, australia, morocco, westernSahara, mauritania, libya, egypt, sudan, southSudan, eritrea, somalia, kenya, tanzania, drCongo, angola, malawi, mozambique, lesotho, swaziland, madagascar, senegal, guinea, sierraLiberia, mali, burkina, ghana, togoBenin, niger, chad, nigeria, centralAfrica, gabon, congo];

const mercator = lat => Math.log(Math.tan(Math.PI / 4 + lat * Math.PI / 360));

function countryDataset(shape, colour) {
    const points = shape.map(p => ({x: p[0], y: mercator(p[1])}));
    points.push(points[0]);
    return {
        data: points,
        showLine: true,
        fill: 'shape',
        tension: 0,
        pointRadius: 0,
        borderWidth: 1,
        borderColor: '#ffffff',
        backgroundColor: colour
    };
}

const mapDatasets = [
    ...certCountries.map((c, i) => countryDataset(c, scaleColors[certValues[i]])),
    ...greyCountries.map(c => countryDataset(c, '#e8e8e8')),
    ...paleIslands.map(c => countryDataset(c, '#f0f0f0'))
];

new Chart(document.getElementById('map'), {
    type: 'scatter',
    data: {datasets: mapDatasets},
    options: {
        responsive: true,
        maintainAspectRatio: false,
        animation: false,
        layout: {padding: 0},
        plugins: {legend: {display: false}, tooltip: {enabled: false}},
        scales: {
            x: {display: false, min: -110, max: 135},
            y: {display: false, min: -1.243, max: 1.374}
        }
    }
});

new Chart(document.getElementById('scale'), {
    type: 'bar',
    data: {
        labels: [''],
        datasets: scaleColors.map((c, i) => ({
            data: [1],
            backgroundColor: c,
            barThickness: 13,
            borderSkipped: false,
            borderRadius: i === 0 ? {topLeft: 6, bottomLeft: 6} : i === scaleColors.length - 1 ? {topRight: 6, bottomRight: 6} : 0
        }))
    },
    options: {
        indexAxis: 'y',
        responsive: true,
        maintainAspectRatio: false,
        animation: false,
        layout: {padding: 0, autoPadding: false},
        plugins: {legend: {display: false}, tooltip: {enabled: false}},
        scales: {
            x: {
                stacked: true,
                min: scaleTicks[0],
                max: scaleTicks[scaleTicks.length - 1],
                grid: {display: false, drawTicks: false},
                border: {display: false},
                afterBuildTicks: axis => { axis.ticks = scaleTicks.map(v => ({value: v})); },
                // end labels sit inside the bar, so the axis needs no side padding
                afterFit: axis => {
                    axis.paddingLeft = 0;
                    axis.paddingRight = 0;
                    axis._margins.left = 0;
                    axis._margins.right = 0;
                },
                ticks: {align: 'inner', maxRotation: 0, autoSkip: false, padding: 4, color: '#444', font: {family: 'Roboto', size: 12, weight: '500'}}
            },
            y: {stacked: true, display: false}
        }
    }
});
</script>
</body>
</html>
